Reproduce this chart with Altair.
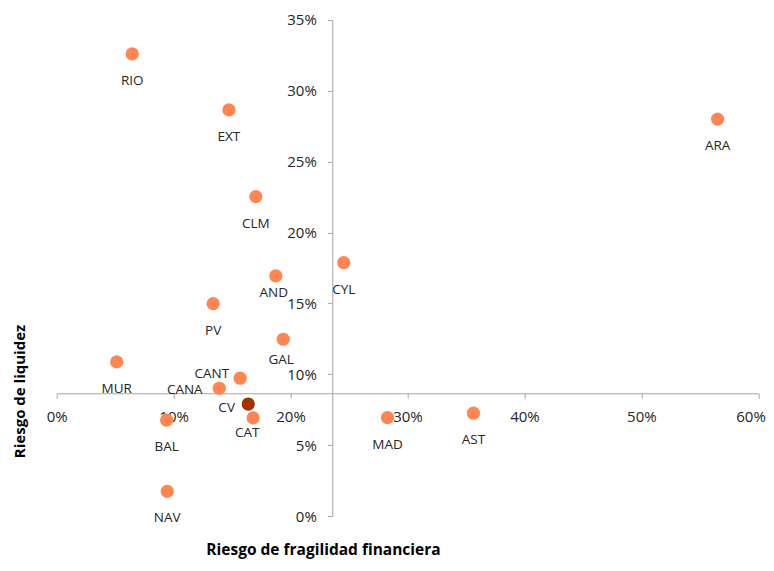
import altair as alt
import pandas as pd

# Data
regiones = ["RIO", "EXT", "CLM", "AND", "CYL", "PV", "GAL", "MUR", "CANT",
            "CANA", "CV", "CAT", "BAL", "NAV", "MAD", "AST", "ARA"]
fragilidad = [0.0646, 0.1473, 0.1703, 0.1874, 0.2455, 0.1338, 0.1937, 0.0513, 0.1569,
              0.1390, 0.1638, 0.1680, 0.0940, 0.0945, 0.2829, 0.3564, 0.5652]
liquidez = [0.3260, 0.2865, 0.2253, 0.1694, 0.1788, 0.1498, 0.1247, 0.1087, 0.0972,
            0.0901, 0.0790, 0.0692, 0.0677, 0.0174, 0.0694, 0.0725, 0.2800]
x_ticks = [0.0, 0.1, 0.2, 0.3, 0.4, 0.5, 0.6]
y_ticks = [0.0, 0.05, 0.10, 0.15, 0.20, 0.25, 0.30, 0.35]
x_cross = 0.2357   # where the vertical axis crosses the horizontal one
y_cross = 0.0866   # where the horizontal axis crosses the vertical one

df = pd.DataFrame({"region": regiones, "fragilidad": fragilidad, "liquidez": liquidez})

W, H = 701.6, 496.1
X_MAX, Y_MAX = 0.6, 0.35
FONT = "Open Sans"
TEXT = "#262626"
AXIS = "#A6A6A6"

x_off = -H * y_cross / Y_MAX
y_off = -W * x_cross / X_MAX

x_enc = alt.X("fragilidad:Q",
              scale=alt.Scale(domain=[0, X_MAX], nice=False, zero=False),
              axis=alt.Axis(values=x_ticks, format=".0%", grid=False, orient="bottom",
                            offset=x_off, tickSize=5, labelPadding=11, labelFontSize=15,
                            labelFont=FONT, labelColor=TEXT, domainColor=AXIS, tickColor=AXIS,
                            labelOverlap=False, labelFlush=False,
                            labelAlign={"condition": {"test": "datum.value >= 0.6", "value": "right"},
                                        "value": "center"},
                            labelOffset={"condition": {"test": "datum.value >= 0.6", "value": 7},
                                         "value": 0},
                            title="Riesgo de fragilidad financiera",
                            titleFont=FONT, titleFontSize=15.5, titleFontWeight="bold",
                            titleColor="#000000", titleX=266.3, titleY=161.5,
                            titleAlign="center", titleBaseline="alphabetic",
                            titleAnchor="middle"))
y_enc = alt.Y("liquidez:Q",
              scale=alt.Scale(domain=[0, Y_MAX], nice=False, zero=False),
              axis=alt.Axis(values=y_ticks, format=".0%", grid=False, orient="left",
                            offset=y_off, tickSize=5, labelPadding=11, labelFontSize=15,
                            labelFont=FONT, labelColor=TEXT, domainColor=AXIS, tickColor=AXIS,
                            labelOverlap=False, labelFlush=False,
                            title="Riesgo de liquidez",
                            titleFont=FONT, titleFontSize=15, titleFontWeight="bold",
                            titleColor="#000000", titleX=-308, titleY=371,
                            titleAngle=270, titleAlign="center", titleBaseline="alphabetic"))

base = alt.Chart(df).encode(x=x_enc, y=y_enc)

points = base.mark_circle(size=175, opacity=1).encode(
    color=alt.condition(alt.datum.region == "CV", alt.value("#A33200"), alt.value("#FF8552"))
)

# label placement tweaks (align, dx, dy)
special = {
    "AND": ("center", -2, 21),
    "GAL": ("center", -2, 25),
    "CAT": ("center", -6, 19),
    "CANA": ("right", -16.6, 5.7),
    "CV": ("right", -13.3, 7.7),
    "CANT": ("right", -11, 0),
}

labels_std = base.transform_filter(
    ~alt.FieldOneOfPredicate(field="region", oneOf=list(special.keys()))
).mark_text(align="center", baseline="alphabetic", dy=31,
            font=FONT, fontSize=13.5, color=TEXT).encode(text="region:N")

layers = [points, labels_std]
for name, (al, dx, dy) in special.items():
    layers.append(
        base.transform_filter(alt.datum.region == name).mark_text(
            align=al, baseline="alphabetic", dx=dx, dy=dy,
            font=FONT, fontSize=13.5, color=TEXT).encode(text="region:N")
    )

chart = alt.layer(*layers).properties(
    width=W, height=H,
    autosize=alt.AutoSizeParams(type="none"),
    padding={"left": 48.7, "top": 11.9, "right": 7.7, "bottom": 45},
).configure_view(stroke=None)

chart.save("out.html", embed_options={"renderer": "svg", "actions": False})
